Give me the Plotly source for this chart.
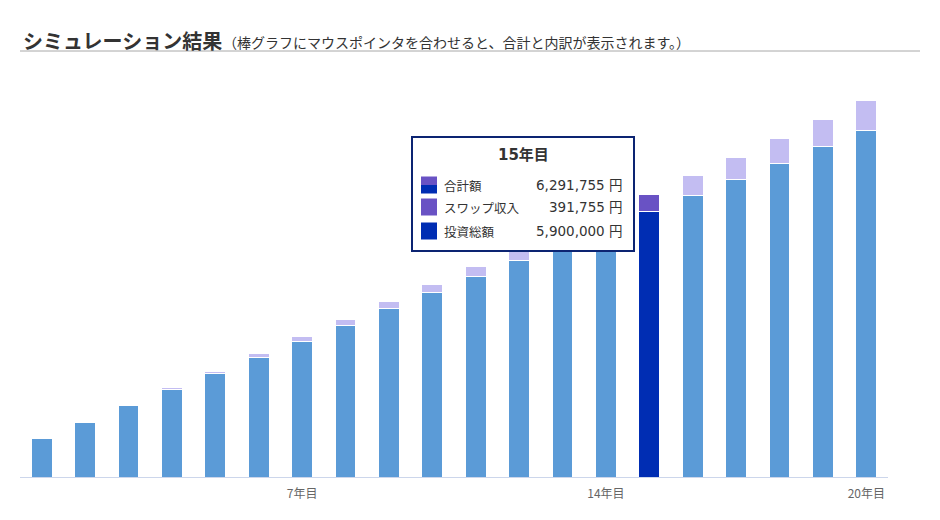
import plotly.graph_objects as go

# ---------------- data ----------------
years = list(range(1, 21))
invest = [860000, 1220000, 1580000, 1940000, 2300000, 2660000, 3020000, 3380000,
          3740000, 4100000, 4460000, 4820000, 5180000, 5540000, 5900000, 6260000,
          6620000, 6980000, 7340000, 7700000]
swap = [5500, 14000, 25500, 40000, 57000, 77000, 100500, 126500, 155500, 187500,
        222500, 260500, 301500, 345000, 391755, 441500, 494000, 549500, 608000, 669000]
tick_years = [7, 14, 20]
tick_labels = ["7年目", "14年目", "20年目"]
hover_year = 15
row_labels = ["合計額", "スワップ収入", "投資総額"]

# ---------------- styles ----------------
FONT = "Noto Sans CJK JP"
FONT_TT = "DejaVu Sans, Noto Sans CJK JP"
C_INV, C_INV_H = "#5b9bd7", "#002db3"
C_SWP, C_SWP_H = "#c3bdf2", "#6952c4"
hi = years.index(hover_year)
inv_colors = [C_INV_H if i == hi else C_INV for i in range(len(years))]
swp_colors = [C_SWP_H if i == hi else C_SWP for i in range(len(years))]

fig = go.Figure()
fig.add_bar(x=years, y=invest, marker=dict(color=inv_colors, line=dict(color="white", width=1)),
            width=0.48, name="投資総額")
fig.add_bar(x=years, y=swap, marker=dict(color=swp_colors, line=dict(color="white", width=1)),
            width=0.48, name="スワップ収入")

# plot area in pixels
L, R, T, B = 20, 888, 60, 477
W, H = R - L, B - T
def px(x):
    return (x - L) / W
def py(y):
    return (B - y) / H

shapes = []
ann = []
# title + underline
ann.append(dict(x=px(21), y=py(40), xref="paper", yref="paper", xanchor="left", yanchor="middle",
                text="<b>シミュレーション結果</b>", showarrow=False,
                font=dict(family=FONT, size=20, color="#333333")))
ann.append(dict(x=px(221), y=py(42), xref="paper", yref="paper", xanchor="left", yanchor="middle",
                text="（棒グラフにマウスポインタを合わせると、合計と内訳が表示されます。）", showarrow=False,
                font=dict(family=FONT, size=14, color="#333333")))
shapes.append(dict(type="line", xref="paper", yref="paper", x0=px(20), x1=px(920), y0=py(51), y1=py(51),
                   line=dict(color="#a8a8a8", width=1)))

# tooltip
tot = invest[hi] + swap[hi]
vals = [tot, swap[hi], invest[hi]]
shapes.append(dict(type="rect", xref="paper", yref="paper", x0=px(412), x1=px(634), y0=py(251), y1=py(137),
                   line=dict(color="#0c2472", width=2), fillcolor="white", layer="above"))
ann.append(dict(x=px(523), y=py(155), xref="paper", yref="paper", xanchor="center", yanchor="middle",
                text=f"<b>{hover_year}年目</b>", showarrow=False,
                font=dict(family=FONT_TT, size=15, color="#333333")))
row_y = [185, 207, 231]
for i, (lab, v, ry) in enumerate(zip(row_labels, vals, row_y)):
    if i == 0:
        shapes.append(dict(type="rect", xref="paper", yref="paper", x0=px(421), x1=px(437), y0=py(ry), y1=py(ry - 8.5),
                           line=dict(width=0), fillcolor=C_SWP_H, layer="above"))
        shapes.append(dict(type="rect", xref="paper", yref="paper", x0=px(421), x1=px(437), y0=py(ry + 8.5), y1=py(ry),
                           line=dict(width=0), fillcolor=C_INV_H, layer="above"))
    else:
        col = C_SWP_H if i == 1 else C_INV_H
        shapes.append(dict(type="rect", xref="paper", yref="paper", x0=px(421), x1=px(437), y0=py(ry + 8.5), y1=py(ry - 8.5),
                           line=dict(width=0), fillcolor=col, layer="above"))
    ann.append(dict(x=px(442), y=py(ry), xref="paper", yref="paper", xanchor="left", yanchor="middle",
                    text=lab, showarrow=False, font=dict(family=FONT, size=12.5, color="#333333")))
    ann.append(dict(x=px(625), y=py(ry), xref="paper", yref="paper", xanchor="right", yanchor="middle",
                    text=f"{v:,} 円", showarrow=False, font=dict(family=FONT_TT, size=13.5, color="#333333")))

fig.update_layout(
    width=940, height=520,
    margin=dict(l=L, r=940 - R, t=T, b=520 - B),
    barmode="stack",
    showlegend=False,
    plot_bgcolor="white", paper_bgcolor="white",
    shapes=shapes, annotations=ann,
    xaxis=dict(range=[0.5, 20.5], tickmode="array", tickvals=tick_years, ticktext=tick_labels,
               showgrid=False, zeroline=False, showline=True, linecolor="#ccd6eb", linewidth=1,
               ticks="outside", ticklen=6, tickcolor="rgba(0,0,0,0)",
               tickfont=dict(family=FONT, size=12, color="#666666")),
    yaxis=dict(range=[0, H / 44.97e-6], visible=False, showgrid=False, zeroline=False),
    font=dict(family=FONT),
)

fig.write_html("out.html")
